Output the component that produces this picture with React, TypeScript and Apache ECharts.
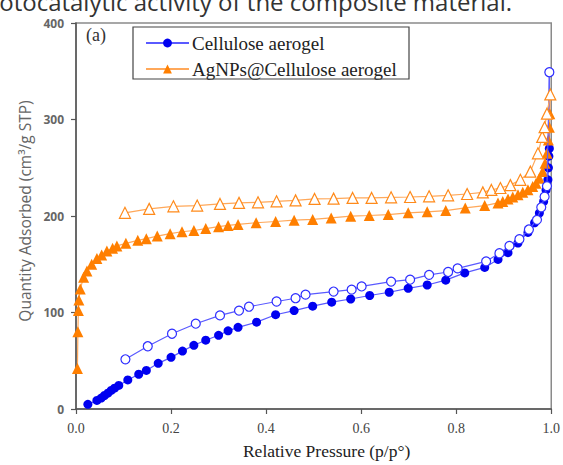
import React, { useEffect, useRef } from "react";
import * as echarts from "echarts";

const xTicks = [0, 0.2, 0.4, 0.6, 0.8, 1.0];
const yTicks = [0, 100, 200, 300, 400];

const seriesNames = ["Cellulose aerogel", "AgNPs@Cellulose aerogel"];

const blueAds: number[][] = [
  [0.025, 4.8], [0.044, 8.9], [0.053, 11.3], [0.06, 14], [0.067, 16.4], [0.074, 19.2], [0.081, 21.6],
  [0.09, 24.4], [0.109, 30.1], [0.132, 36], [0.148, 40], [0.173, 47.3], [0.2, 53.5], [0.224, 60],
  [0.248, 66], [0.273, 71.3], [0.3, 76.4], [0.32, 81], [0.341, 84.6], [0.38, 90], [0.42, 97.7],
  [0.459, 102], [0.498, 106.6], [0.538, 110.7], [0.578, 114], [0.618, 117.6], [0.659, 121],
  [0.699, 125], [0.739, 128.5], [0.778, 133.5], [0.818, 141], [0.86, 146.7], [0.888, 155],
  [0.909, 162], [0.93, 172], [0.951, 183], [0.965, 193], [0.975, 203], [0.984, 215], [0.989, 227],
  [0.993, 237.5], [0.994, 250], [0.995, 262], [0.996, 270], [0.996, 349],
];

const blueDes: number[][] = [
  [0.104, 51.5], [0.151, 65], [0.202, 78], [0.252, 88.4], [0.303, 97], [0.343, 102], [0.364, 106],
  [0.422, 111.4], [0.462, 114.8], [0.483, 118.5], [0.542, 121.7], [0.58, 123.7], [0.601, 127],
  [0.663, 132], [0.703, 134], [0.743, 139], [0.783, 142], [0.803, 145.7], [0.863, 153], [0.891, 161.4],
  [0.912, 169], [0.933, 176], [0.953, 186], [0.97, 196], [0.979, 209], [0.986, 220], [0.991, 231],
  [0.996, 349],
];

const orangeAds: number[][] = [
  [0.003, 42], [0.004, 80], [0.005, 102], [0.006, 113], [0.009, 124.4], [0.016, 136.4], [0.023, 143],
  [0.033, 150], [0.044, 156], [0.054, 159.7], [0.065, 163.8], [0.077, 166.6], [0.086, 169],
  [0.105, 171.7], [0.13, 174.8], [0.148, 176.5], [0.171, 179.2], [0.198, 181.7], [0.223, 183.7],
  [0.248, 185], [0.273, 187], [0.3, 188.9], [0.32, 190.2], [0.341, 191.3], [0.379, 193], [0.42, 194.3],
  [0.459, 195.7], [0.498, 196.5], [0.537, 198], [0.578, 199.8], [0.617, 200.5], [0.657, 201.5],
  [0.699, 203.3], [0.739, 204.3], [0.778, 205.6], [0.819, 208.4], [0.86, 210.8], [0.888, 213.6],
  [0.898, 215], [0.909, 217.7], [0.919, 219.7], [0.93, 222], [0.94, 224.5], [0.951, 227.2],
  [0.961, 230.6], [0.968, 234], [0.975, 239], [0.982, 246], [0.987, 254.7], [0.991, 265],
  [0.994, 278.7], [0.996, 292], [0.997, 306], [0.998, 326],
];

const orangeDes: number[][] = [
  [0.103, 203.3], [0.154, 207.4], [0.205, 210], [0.255, 210.8], [0.303, 212.5], [0.343, 213.6],
  [0.383, 214.2], [0.422, 215.2], [0.462, 216.2], [0.502, 217.7], [0.542, 218], [0.582, 218.7],
  [0.622, 218.7], [0.663, 219.4], [0.703, 219.7], [0.743, 220.4], [0.783, 221.4], [0.823, 222.8],
  [0.856, 224.5], [0.874, 227], [0.893, 229], [0.914, 232], [0.935, 237.5], [0.956, 246],
  [0.972, 265], [0.981, 282], [0.986, 292], [0.991, 306], [0.998, 326],
];

const BLUE = "#0000f0";
const BLUE_LINE = "#5a5aff";
const ORANGE = "#ff7f00";
const ORANGE_LINE = "#ffa85a";

export default function App() {
  const ref = useRef<HTMLDivElement>(null);
  useEffect(() => {
    if (!ref.current) return;
    const chart = echarts.init(ref.current, null, { renderer: "svg" });
    const option: any = {
      animation: false,
      backgroundColor: "#ffffff",
      grid: {
        left: 76,
        right: 10,
        top: 23,
        bottom: 54,
        show: true,
        borderColor: "#8a8a8a",
        borderWidth: 1.5,
        backgroundColor: "transparent",
      },
      graphic: [
        {
          type: "text",
          right: 51,
          top: -11,
          style: {
            text: "Photocatalytic activity of the composite material.",
            font: "24px 'Open Sans'",
            lineHeight: 20,
            fill: "#333333",
          },
        },
        {
          type: "rect",
          shape: { x: 133, y: 27, width: 276, height: 52 },
          style: { fill: "none", stroke: "#444444", lineWidth: 1.2 },
          z: 10,
        },
        {
          type: "text",
          left: 86,
          top: 26,
          style: {
            text: "(a)",
            font: "18px 'Liberation Serif'",
            fill: "#333333",
          },
          z: 10,
        },
      ],
      legend: {
        data: seriesNames,
        orient: "vertical",
        left: 140,
        top: 33,
        itemGap: 6,
        itemWidth: 43,
        itemHeight: 11,
        padding: [0, 0, 0, 5],
        textStyle: {
          fontFamily: "Liberation Serif",
          fontSize: 19,
          color: "#222222",
          lineHeight: 20,
          padding: [0, 0, 0, -2],
        },
      },
      xAxis: {
        type: "value",
        min: 0,
        max: 1,
        interval: 0.2,
        name: "Relative Pressure (p/p°)",
        nameLocation: "middle",
        nameGap: 33,
        nameTextStyle: {
          fontFamily: "Liberation Serif",
          fontSize: 17.5,
          color: "#222222",
          padding: [0, 0, 0, 26],
        },
        axisLine: { show: true, lineStyle: { color: "#555555", width: 1.5 } },
        axisTick: { show: true, length: 5, lineStyle: { color: "#555555", width: 1.2 } },
        axisLabel: {
          margin: 12,
          fontFamily: "Liberation Serif",
          fontSize: 14,
          color: "#444444",
          formatter: (v: number) => (xTicks.includes(Math.round(v * 10) / 10) ? v.toFixed(1) : ""),
        },
        splitLine: { show: false },
      },
      yAxis: {
        type: "value",
        min: 0,
        max: 400,
        interval: 100,
        name: "Quantity Adsorbed (cm³/g STP)",
        nameLocation: "middle",
        nameGap: 39,
        nameTextStyle: {
          fontFamily: "Open Sans",
          fontSize: 15.5,
          color: "#666666",
          padding: [0, 0, 0, 10],
        },
        axisLine: { show: true, lineStyle: { color: "#555555", width: 1.5 } },
        axisTick: { show: true, length: 5, lineStyle: { color: "#555555", width: 1.2 } },
        axisLabel: {
          margin: 12,
          fontFamily: "Open Sans",
          fontWeight: "bold",
          fontSize: 12,
          lineHeight: 12,
          color: "#666666",
          formatter: (v: number) => (yTicks.includes(v) ? String(v) : ""),
        },
        splitLine: { show: false },
      },
      series: [
        {
          name: seriesNames[0],
          type: "line",
          data: blueAds,
          symbol: "circle",
          symbolSize: 9,
          showAllSymbol: true,
          lineStyle: { color: BLUE_LINE, width: 1.2 },
          itemStyle: { color: BLUE, borderColor: BLUE, borderWidth: 0 },
          z: 3,
        },
        {
          name: "Cellulose aerogel (desorption)",
          type: "line",
          data: blueDes,
          symbol: "circle",
          symbolSize: 9,
          showAllSymbol: true,
          lineStyle: { color: BLUE_LINE, width: 1.2 },
          itemStyle: { color: "#ffffff", borderColor: "#2f2fff", borderWidth: 1.2 },
          z: 4,
        },
        {
          name: seriesNames[1],
          type: "line",
          data: orangeAds,
          symbol: "triangle",
          symbolSize: 11,
          showAllSymbol: true,
          lineStyle: { color: ORANGE_LINE, width: 1.2 },
          itemStyle: { color: ORANGE, borderColor: ORANGE, borderWidth: 0 },
          z: 3,
        },
        {
          name: "AgNPs@Cellulose aerogel (desorption)",
          type: "line",
          data: orangeDes,
          symbol: "triangle",
          symbolSize: 11,
          showAllSymbol: true,
          lineStyle: { color: ORANGE_LINE, width: 1.2 },
          itemStyle: { color: "#ffffff", borderColor: "#ff8a1a", borderWidth: 1.2 },
          z: 4,
        },
      ],
    };
    chart.setOption(option);
    return () => chart.dispose();
  }, []);
  return (
    <div
      ref={ref}
      style={{ position: "absolute", left: 0, top: 0, width: 563, height: 465 }}
    />
  );
}
